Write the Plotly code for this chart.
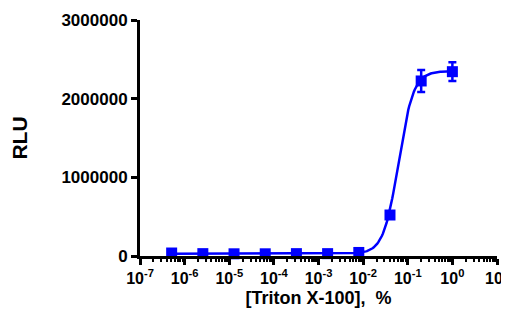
import numpy as np
import plotly.graph_objects as go

# Data
conc = [5.12e-7, 2.56e-6, 1.28e-5, 6.4e-5, 3.2e-4, 1.6e-3, 8e-3, 0.04, 0.2, 1.0]
rlu = [38000, 30000, 28000, 28000, 30000, 30000, 45000, 521000, 2225000, 2343000]
rlu_err = [8000, 6000, 6000, 6000, 6000, 6000, 8000, 20000, 140000, 120000]

# 4PL fit parameters (estimated from the drawn curve)
fit_bottom = 29000
fit_top = 2350000
fit_ec50 = 0.062
fit_hill = 2.6

x_ticks = [1e-7, 1e-6, 1e-5, 1e-4, 1e-3, 1e-2, 1e-1, 1e0, 1e1]
x_ticklabels = ["10<sup>-7</sup>", "10<sup>-6</sup>", "10<sup>-5</sup>", "10<sup>-4</sup>",
                "10<sup>-3</sup>", "10<sup>-2</sup>", "10<sup>-1</sup>", "10<sup>0</sup>", "10<sup>1</sup>"]
y_ticks = [0, 1000000, 2000000, 3000000]
y_ticklabels = ["0", "1000000", "2000000", "3000000"]

xc = np.logspace(np.log10(conc[0]), np.log10(conc[-1]), 300)
yc = fit_bottom + (fit_top - fit_bottom) / (1 + (fit_ec50 / xc) ** fit_hill)

blue = "#0000FF"
font = "Liberation Sans, Arial, sans-serif"

fig = go.Figure()
fig.add_trace(go.Scatter(x=xc, y=yc, mode="lines", line=dict(color=blue, width=2.5),
                         hoverinfo="skip", cliponaxis=False))
fig.add_trace(go.Scatter(x=conc, y=rlu, mode="markers",
                         marker=dict(symbol="square", size=11, color=blue),
                         error_y=dict(type="data", array=rlu_err, color=blue, thickness=2.5, width=4),
                         cliponaxis=False))

# page body has an 8px default margin; size the figure to compensate
fig.update_layout(
    width=501, height=303,
    margin=dict(l=132, r=12, t=12, b=55),
    paper_bgcolor="white", plot_bgcolor="white",
    showlegend=False,
    font=dict(family=font, color="black"),
)
fig.update_xaxes(
    type="log", range=[-7, 1], automargin=False,
    tickvals=x_ticks, ticktext=x_ticklabels,
    tickfont=dict(size=16, family=font, color="black", weight="bold"),
    ticklabeloverflow="allow",
    showline=True, linecolor="black", linewidth=3,
    ticks="outside", ticklen=6, tickwidth=3, tickcolor="black",
    minor=dict(ticks="outside", ticklen=3, tickwidth=1.5, tickcolor="black", dtick="D1", showgrid=False),
    showgrid=False, zeroline=False,
    title=dict(text="[Triton X-100],  %", font=dict(size=18, family=font, color="black", weight="bold"), standoff=6),
)
fig.update_yaxes(
    range=[0, 3000000], automargin=False,
    tickvals=y_ticks, ticktext=y_ticklabels,
    tickfont=dict(size=17, family=font, color="black", weight="bold"),
    ticklabeloverflow="allow",
    showline=True, linecolor="black", linewidth=3,
    ticks="outside", ticklen=6, tickwidth=3, tickcolor="black",
    showgrid=False, zeroline=False,
    title=dict(text="RLU", font=dict(size=21, family=font, color="black", weight="bold"), standoff=40),
)

fig.write_html("out.html")
